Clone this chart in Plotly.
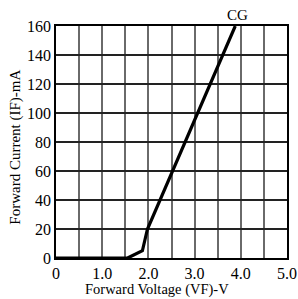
import plotly.graph_objects as go

voltage = [0, 1.55, 1.87, 1.98, 3.88]
current = [0, 0, 5, 20, 160]
x_ticks = [0, 1, 2, 3, 4, 5]
x_tick_labels = ["0", "1.0", "2.0", "3.0", "4.0", "5.0"]
y_ticks = [0, 20, 40, 60, 80, 100, 120, 140, 160]

FONT = "Liberation Serif"

fig = go.Figure()
fig.add_trace(go.Scatter(x=voltage, y=current, mode="lines",
                         line=dict(color="black", width=3.2), showlegend=False,
                         hoverinfo="skip"))

fig.add_annotation(x=3.92, y=1, xref="x", yref="paper", yanchor="bottom",
                   text="CG", showarrow=False, yshift=1,
                   font=dict(family=FONT, size=15, color="black"))
# axis titles (positioned as in the reference)
fig.add_annotation(x=0.436, y=0, xref="paper", yref="paper", xanchor="center",
                   yanchor="top", yshift=-21, text="Forward Voltage (VF)-V",
                   showarrow=False, font=dict(family=FONT, size=14.5, color="black"))
fig.add_annotation(x=-0.177, y=0.476, xref="paper", yref="paper", xanchor="center",
                   yanchor="middle", textangle=-90, text="Forward Current (IF)-mA",
                   showarrow=False, font=dict(family=FONT, size=15, color="black"))

fig.update_layout(
    width=298, height=299,
    margin=dict(l=56, r=11, t=26, b=41),
    paper_bgcolor="white", plot_bgcolor="white",
    font=dict(family=FONT, color="black"),
)
fig.update_xaxes(
    range=[0, 5], tickvals=x_ticks, ticktext=x_tick_labels,
    automargin=False,
    showgrid=True, gridcolor="#6a6a6a", gridwidth=1.5,
    minor=dict(dtick=0.5, showgrid=True, gridcolor="#6a6a6a", gridwidth=1.5),
    showline=True, linecolor="black", linewidth=1.5, mirror=True,
    ticks="", zeroline=False,
    tickfont=dict(family=FONT, size=16),
)
fig.update_yaxes(
    range=[0, 160], tickvals=y_ticks,
    automargin=False,
    showgrid=True, gridcolor="#222222", gridwidth=1.5,
    showline=True, linecolor="black", linewidth=1.5, mirror=True,
    ticks="", zeroline=False,
    tickfont=dict(family=FONT, size=16),
)

fig.write_html("out.html", config={"displayModeBar": False},
               post_script="document.body.style.margin='0';")
